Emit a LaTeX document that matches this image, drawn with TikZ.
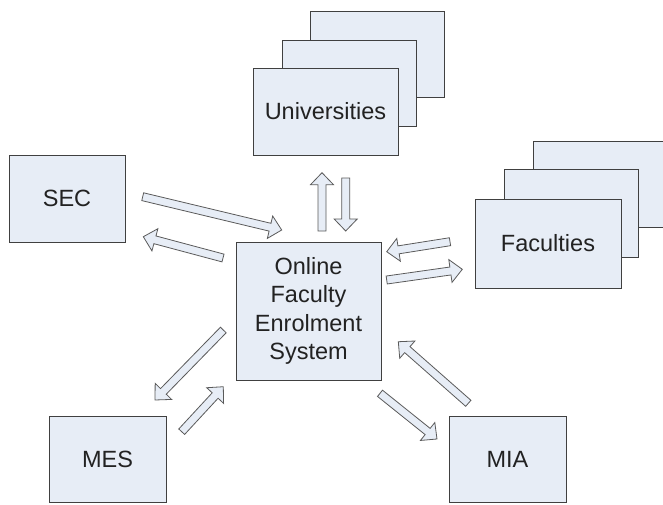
\documentclass[tikz,border=0pt]{standalone}
\usepackage{fontspec}
\setmainfont{Liberation Sans}
\usetikzlibrary{calc}
\definecolor{boxfill}{HTML}{E7EDF6}
\definecolor{boxline}{HTML}{404040}
\definecolor{arrline}{HTML}{5A5A5A}
\definecolor{txt}{HTML}{222222}
\tikzset{
  ent/.style={draw=boxline, fill=boxfill, line width=0.9pt, rectangle, inner sep=0pt,
    font=\fontsize{23.5}{28.5}\selectfont, text=txt, align=center},
  barrow/.style={draw=arrline, fill=boxfill, line width=0.8pt, line join=miter}
}
\newcommand\blockarr[2]{%
  \path let \p1=($(#2)-(#1)$) in \pgfextra{%
    \pgfmathparse{veclen(\x1,\y1)}\xdef\arrlen{\pgfmathresult}%
    \pgfmathparse{atan2(\y1,\x1)}\xdef\arrang{\pgfmathresult}};
  \begin{scope}[shift={(#1)},rotate=\arrang]
    \draw[barrow] (0pt,-4pt) -- ({\arrlen pt-12pt},-4pt) -- ({\arrlen pt-12pt},-11.5pt)
      -- (\arrlen pt,0pt) -- ({\arrlen pt-12pt},11.5pt) -- ({\arrlen pt-12pt},4pt)
      -- (0pt,4pt) -- cycle;
  \end{scope}}
\begin{document}
\begin{tikzpicture}[x=1pt,y=-1pt]
\clip (0,0) rectangle (663,504);
\useasboundingbox (0,0) rectangle (663,504);
% Universities stack
\node[ent, minimum width=134pt, minimum height=86pt] (uni3) at (377,54) {};
\node[ent, minimum width=134pt, minimum height=86pt] (uni2) at (349,83) {};
\node[ent, minimum width=145pt, minimum height=87pt] (uni) at (325.5,111.5) {Universities};
% Faculties stack
\node[ent, minimum width=134pt, minimum height=86pt] (fac3) at (600,184) {};
\node[ent, minimum width=134pt, minimum height=88pt] (fac2) at (571,213) {};
\node[ent, minimum width=146pt, minimum height=89pt] (fac) at (548,243.5) {Faculties};
% other boxes
\node[ent, minimum width=116pt, minimum height=87pt] (sec) at (67,198.5) {SEC};
\node[ent, minimum width=145pt, minimum height=138pt] (ofes) at (308.5,311) {Online\\Faculty\\Enrolment\\System};
\node[ent, minimum width=117pt, minimum height=86pt] (mes) at (107.5,459) {MES};
\node[ent, minimum width=117pt, minimum height=86pt] (mia) at (507.5,459) {MIA};
% arrow end points
\coordinate (a1s) at (142.7,196.7); \coordinate (a1e) at (281.7,230);
\coordinate (a2s) at (223,258);     \coordinate (a2e) at (143.3,236.7);
\coordinate (a3s) at (322,231);     \coordinate (a3e) at (322,172.7);
\coordinate (a4s) at (345.7,178);   \coordinate (a4e) at (345.7,231);
\coordinate (a5s) at (450,241.7);   \coordinate (a5e) at (386.7,251.7);
\coordinate (a6s) at (386.7,280);   \coordinate (a6e) at (462.3,269.3);
\coordinate (a7s) at (223.3,330);   \coordinate (a7e) at (155,400);
\coordinate (a8s) at (181.7,431.7); \coordinate (a8e) at (223.3,386.7);
\coordinate (a9s) at (468.3,403.3); \coordinate (a9e) at (398.3,341.7);
\coordinate (a10s) at (380,393.3);  \coordinate (a10e) at (437,439);
\blockarr{a1s}{a1e}
\blockarr{a2s}{a2e}
\blockarr{a3s}{a3e}
\blockarr{a4s}{a4e}
\blockarr{a5s}{a5e}
\blockarr{a6s}{a6e}
\blockarr{a7s}{a7e}
\blockarr{a8s}{a8e}
\blockarr{a9s}{a9e}
\blockarr{a10s}{a10e}
\end{tikzpicture}
\end{document}
